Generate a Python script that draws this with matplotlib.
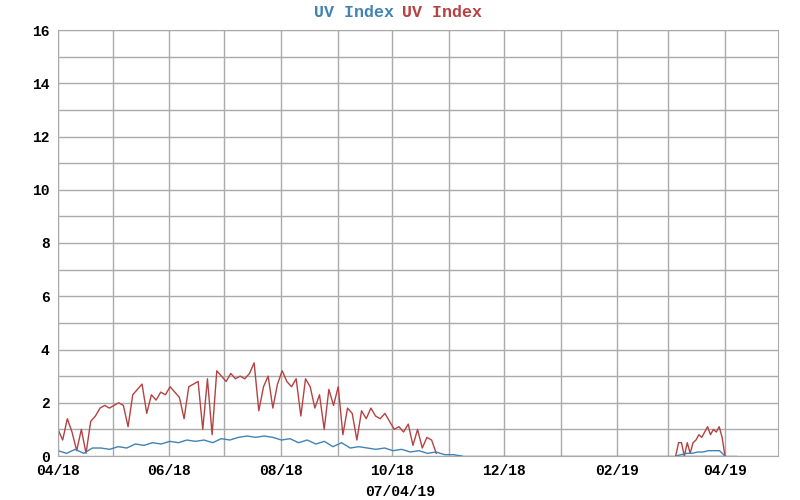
import matplotlib
matplotlib.use('Agg')
import matplotlib.pyplot as plt
import matplotlib.dates as mdates
import pandas as pd

# red series, summer 2018 (Apr 1 .. Oct 25)
red_2018 = [1.0, 0.6, 1.4, 0.9, 0.2, 1.0, 0.1, 1.3, 1.5, 1.8,
            1.9, 1.8, 1.9, 2.0, 1.9, 1.1, 2.3, 2.5, 2.7, 1.6, 2.3, 2.1,
            2.4, 2.3, 2.6, 2.4, 2.2, 1.4, 2.6, 2.7, 2.8, 1.0, 2.9, 0.8,
            3.2, 3.0, 2.8, 3.1, 2.9, 3.0, 2.9, 3.1, 3.5, 1.7, 2.6, 3.0, 1.8, 2.7, 3.2,
            2.8, 2.6, 2.9, 1.5, 2.9, 2.6, 1.8, 2.3, 1.0, 2.5, 1.9, 2.6, 0.8,
            1.8, 1.6, 0.6, 1.7, 1.4, 1.8, 1.5, 1.4, 1.6, 1.3, 1.0,
            1.1, 0.9, 1.2, 0.4, 1.0, 0.3, 0.7, 0.6, 0.1]
# blue series, summer 2018 (Apr 1 .. Nov 8)
blue_2018 = [0.2, 0.1, 0.25, 0.1, 0.3, 0.3, 0.25, 0.35, 0.3, 0.45, 0.4, 0.5,
             0.45, 0.55, 0.5, 0.6, 0.55, 0.6, 0.5, 0.65, 0.6, 0.7, 0.75, 0.7,
             0.75, 0.7, 0.6, 0.65, 0.5, 0.6, 0.45, 0.55, 0.35, 0.5, 0.3, 0.35,
             0.3, 0.25, 0.3, 0.2, 0.25, 0.15, 0.2, 0.1, 0.15, 0.05, 0.05, 0.0]
# spring 2019 (Mar 5 .. Apr 1)
red_2019 = [0.0, 0.5, 0.5, 0.0, 0.5, 0.1, 0.5, 0.6, 0.8, 0.7, 0.9, 1.1,
            0.8, 1.0, 0.9, 1.1, 0.7, 0.0]
blue_2019 = [0.0, 0.05, 0.1, 0.1, 0.15, 0.15, 0.2, 0.2, 0.2, 0.0]

BLUE = '#4282b4'
RED = '#b44242'

red18_x = pd.date_range('2018-04-01', '2018-10-25', periods=len(red_2018))
red19_x = pd.date_range('2019-03-05', '2019-04-01', periods=len(red_2019))
blue18_x = pd.date_range('2018-04-01', '2018-11-08', periods=len(blue_2018))
blue19_x = pd.date_range('2019-03-05', '2019-04-01', periods=len(blue_2019))
# zero baseline through the winter gap
base_x = [pd.Timestamp('2018-11-08'), pd.Timestamp('2019-04-07')]

fig = plt.figure(figsize=(8, 5), dpi=100)
ax = fig.add_axes([0.0725, 0.088, 0.9, 0.852])
font = 'Liberation Mono'

ax.plot(base_x, [0, 0], color=BLUE, lw=1)
ax.plot(red18_x, red_2018, color=RED, lw=1)
ax.plot(red19_x, red_2019, color=RED, lw=1)
ax.plot(blue18_x, blue_2018, color=BLUE, lw=1)
ax.plot(blue19_x, blue_2019, color=BLUE, lw=1)

ax.set_xlim(pd.Timestamp('2018-04-01'), pd.Timestamp('2019-04-30'))
ax.set_ylim(0, 16)
ax.set_yticks(range(0, 17, 2))
ax.set_yticks(range(0, 17), minor=True)
ax.xaxis.set_major_locator(mdates.MonthLocator(bymonth=[2, 4, 6, 8, 10, 12]))
ax.xaxis.set_minor_locator(mdates.MonthLocator())
ax.xaxis.set_major_formatter(mdates.DateFormatter('%m/%y'))
ax.grid(which='both', color='#aaaaaa', lw=1)
ax.set_axisbelow(True)
ax.tick_params(which='both', length=0, pad=6)
for lab in ax.get_xticklabels() + ax.get_yticklabels():
    lab.set_fontfamily(font)
    lab.set_fontweight('bold')
    lab.set_fontsize(10.5)
for s in ax.spines.values():
    s.set_color('#aaaaaa')

fig.text(0.493, 0.975, 'UV Index', color=BLUE, ha='right', va='center',
         family=font, weight='bold', fontsize=12)
fig.text(0.503, 0.975, 'UV Index', color=RED, ha='left', va='center',
         family=font, weight='bold', fontsize=12)
fig.text(0.5, 0.017, '07/04/19', ha='center', va='center',
         family=font, weight='bold', fontsize=10.5)

fig.savefig('out.png')
